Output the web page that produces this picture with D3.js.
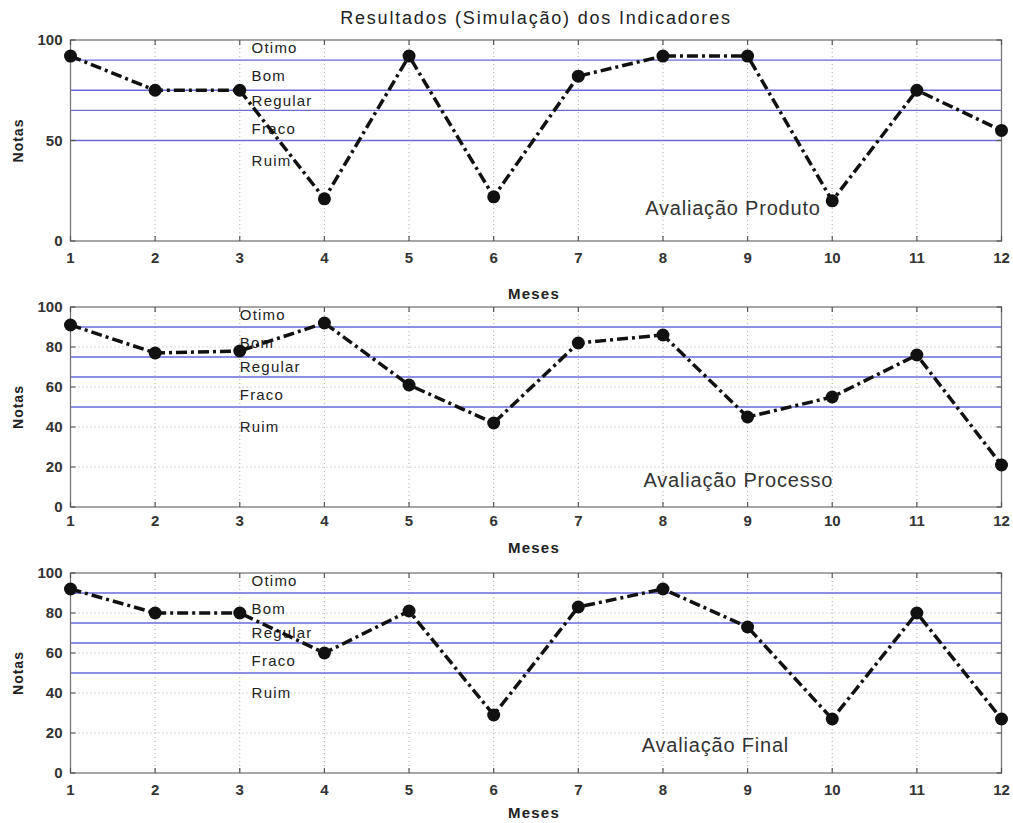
<!DOCTYPE html>
<html>
<head>
<meta charset="utf-8">
<script src="https://cdn.jsdelivr.net/npm/d3@7/dist/d3.min.js"></script>
<style>
  html, body { margin: 0; padding: 0; background: #fff; }
  svg { display: block; font-family: "Liberation Sans", Arial, Helvetica, sans-serif; }
</style>
</head>
<body>
<svg id="chart" width="1013" height="823"></svg>
<script>
// ---- data ----
const months = [1, 2, 3, 4, 5, 6, 7, 8, 9, 10, 11, 12];
const produto  = [92, 75, 75, 21, 92, 22, 82, 92, 92, 20, 75, 55];
const processo = [91, 77, 78, 92, 61, 42, 82, 86, 45, 55, 76, 21];
const final    = [92, 80, 80, 60, 81, 29, 83, 92, 73, 27, 80, 27];
const panelTitles = ["Avaliação Produto", "Avaliação Processo", "Avaliação Final"];
const yTicksTop = [0, 50, 100];
const yTicksOther = [0, 20, 40, 60, 80, 100];
const thresholds = [90, 75, 65, 50];
const levelNames = ["Otimo", "Bom", "Regular", "Fraco", "Ruim"];
const levelValues = [96, 82, 70, 56, 40];
const chartTitle = "Resultados (Simulação) dos Indicadores";

// ---- layout ----
const svg = d3.select("#chart");
const left = 70.5, right = 1001.5;
const panels = [
  { top: 40, bottom: 241, data: produto,  yTicks: yTicksTop,   tickOff: 17, mesesY: 294, labelX: 3.14, nameX: 7.79, nameY: 16.5 },
  { top: 307, bottom: 507, data: processo, yTicks: yTicksOther, tickOff: 14, mesesY: 548, labelX: 3.0,  nameX: 7.77, nameY: 13.5 },
  { top: 573, bottom: 773, data: final,    yTicks: yTicksOther, tickOff: 17, mesesY: 813, labelX: 3.14, nameX: 7.75, nameY: 14 }
];

const x = d3.scaleLinear().domain([1, 12]).range([left, right]);

svg.append("text")
  .attr("x", 536).attr("y", 18)
  .attr("dy", "0.35em")
  .attr("text-anchor", "middle")
  .attr("font-size", 18).attr("letter-spacing", 1.8).attr("fill", "#222")
  .text(chartTitle);

panels.forEach((p, i) => {
  const y = d3.scaleLinear().domain([0, 100]).range([p.bottom, p.top]);
  const g = svg.append("g");

  // grid
  g.selectAll(".vg").data(months).enter().append("line")
    .attr("x1", d => x(d)).attr("x2", d => x(d))
    .attr("y1", p.top).attr("y2", p.bottom)
    .attr("stroke", "#aaa").attr("stroke-width", 1).attr("stroke-dasharray", "1,3");
  g.selectAll(".hg").data(p.yTicks.filter(t => t > 0 && t < 100)).enter().append("line")
    .attr("x1", left).attr("x2", right)
    .attr("y1", d => y(d)).attr("y2", d => y(d))
    .attr("stroke", "#aaa").attr("stroke-width", 1).attr("stroke-dasharray", "1,3");

  // threshold lines
  g.selectAll(".th").data(thresholds).enter().append("line")
    .attr("x1", left).attr("x2", right)
    .attr("y1", d => y(d)).attr("y2", d => y(d))
    .attr("stroke", "#6a6ad8").attr("stroke-width", 1.4);

  // frame
  g.append("rect")
    .attr("x", left).attr("y", p.top)
    .attr("width", right - left).attr("height", p.bottom - p.top)
    .attr("fill", "none").attr("stroke", "#777").attr("stroke-width", 1.3);

  // ticks inward
  const tl = 5;
  g.selectAll(".xtb").data(months).enter().append("line")
    .attr("x1", d => x(d)).attr("x2", d => x(d))
    .attr("y1", p.bottom).attr("y2", p.bottom - tl)
    .attr("stroke", "#555").attr("stroke-width", 1.2);
  g.selectAll(".xtt").data(months).enter().append("line")
    .attr("x1", d => x(d)).attr("x2", d => x(d))
    .attr("y1", p.top).attr("y2", p.top + tl)
    .attr("stroke", "#555").attr("stroke-width", 1.2);
  g.selectAll(".ytl").data(p.yTicks).enter().append("line")
    .attr("x1", left).attr("x2", left + tl)
    .attr("y1", d => y(d)).attr("y2", d => y(d))
    .attr("stroke", "#555").attr("stroke-width", 1.2);
  g.selectAll(".ytr").data(p.yTicks).enter().append("line")
    .attr("x1", right).attr("x2", right - tl)
    .attr("y1", d => y(d)).attr("y2", d => y(d))
    .attr("stroke", "#555").attr("stroke-width", 1.2);

  // tick labels
  g.selectAll(".xl").data(months).enter().append("text")
    .attr("x", d => x(d)).attr("y", p.bottom + p.tickOff)
    .attr("dy", "0.35em").attr("text-anchor", "middle")
    .attr("font-size", 15).attr("font-weight", "bold").attr("fill", "#333")
    .text(d => d);
  g.selectAll(".yl").data(p.yTicks).enter().append("text")
    .attr("x", left - 8).attr("y", d => y(d))
    .attr("dy", "0.35em").attr("text-anchor", "end")
    .attr("font-size", 15).attr("font-weight", "bold").attr("fill", "#333")
    .text(d => d);

  // axis labels
  g.append("text")
    .attr("x", 534).attr("y", p.mesesY)
    .attr("dy", "0.35em").attr("text-anchor", "middle")
    .attr("font-size", 15).attr("font-weight", "bold").attr("letter-spacing", 1.2).attr("fill", "#222")
    .text("Meses");
  g.append("text")
    .attr("transform", `translate(18,${(p.top + p.bottom) / 2}) rotate(-90)`)
    .attr("dy", "0.35em").attr("text-anchor", "middle")
    .attr("font-size", 14).attr("font-weight", "bold").attr("letter-spacing", 1).attr("fill", "#222")
    .text("Notas");

  // level labels
  g.selectAll(".lv").data(levelNames).enter().append("text")
    .attr("x", x(p.labelX)).attr("y", (d, j) => y(levelValues[j]))
    .attr("dy", "0.35em")
    .attr("font-size", 15).attr("letter-spacing", 1.2).attr("fill", "#222")
    .text(d => d);

  // data line
  const line = d3.line().x((d, j) => x(months[j])).y(d => y(d));
  g.append("path")
    .datum(p.data)
    .attr("d", line)
    .attr("fill", "none").attr("stroke", "#111")
    .attr("stroke-width", 3.5)
    .attr("stroke-dasharray", "11,4,3,4");
  g.selectAll(".pt").data(p.data).enter().append("circle")
    .attr("cx", (d, j) => x(months[j])).attr("cy", d => y(d))
    .attr("r", 6.5).attr("fill", "#111");

  // panel name
  g.append("text")
    .attr("x", x(p.nameX)).attr("y", y(p.nameY))
    .attr("dy", "0.35em")
    .attr("font-size", 20).attr("letter-spacing", 0.8).attr("fill", "#333")
    .text(panelTitles[i]);
});
</script>
</body>
</html>
